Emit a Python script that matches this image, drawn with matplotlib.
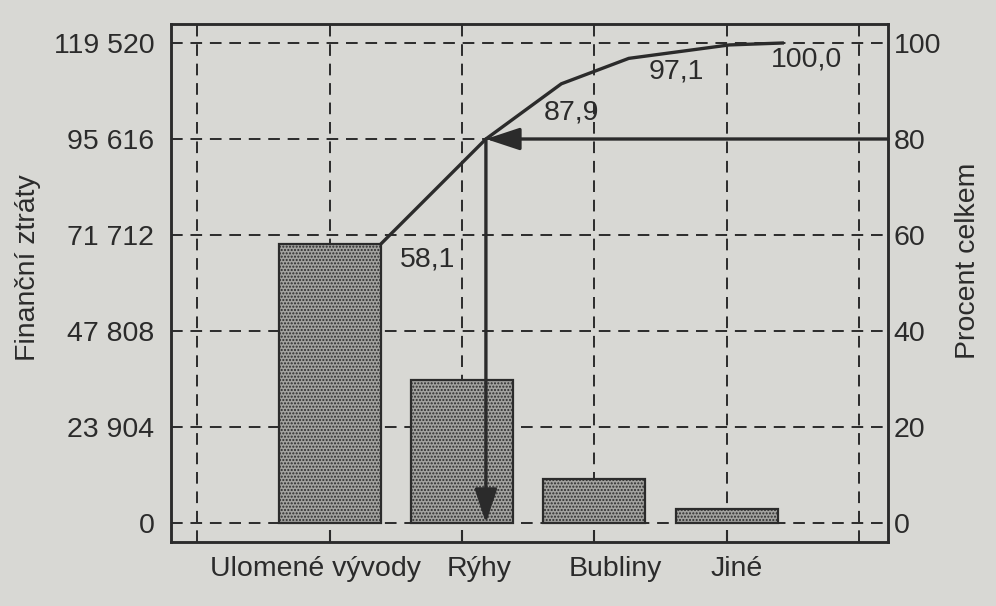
import matplotlib.pyplot as plt
import matplotlib.transforms as mtransforms
import numpy as np

plt.rcParams['font.family'] = ['Liberation Sans', 'DejaVu Sans']
plt.rcParams['hatch.color'] = '#727270'

# druhy vad a finanční ztráty
vady = ['Ulomené vývody', 'Rýhy', 'Bubliny', 'Jiné']
ztraty = [69441, 35617, 10996, 3466]
celkem = sum(ztraty)  # 119 520

# kumulativní křivka tak, jak je v grafu nakreslená
krivka_x = [1.385, 2.18, 2.75, 3.26, 4.02, 4.42]
krivka_pct = [58.1, 80.0, 91.5, 96.8, 99.6, 100.0]

# popisky kumulativních procent
popisky = ['58,1', '87,9', '97,1', '100,0']
hranice = 80  # 80 % -> Pareto

paper = '#d8d8d4'
ink = '#2b2b2b'
fs = 20.5

fig = plt.figure(figsize=(9.96, 6.06), dpi=100, facecolor=paper)
ax = fig.add_axes([0.1717, 0.1056, 0.72, 0.8548])
ax.set_facecolor(paper)
ax2 = ax.twinx()

x = np.arange(1, len(vady) + 1)
xmin, xmax = -0.2, 5.22
pad_pct = 3.96
ax.set_xlim(xmin, xmax)
ax.set_ylim(-celkem * pad_pct / 100, celkem * (1 + pad_pct / 100))
ax2.set_ylim(-pad_pct, 100 + pad_pct)

# mřížka
grid_kw = dict(color=ink, lw=1.4, ls=(0, (6, 4)), zorder=1)
for gx in range(6):
    ax.axvline(gx, **grid_kw)
for gy in np.linspace(0, celkem, 6):
    ax.axhline(gy, **grid_kw)

# sloupce
ax.bar(x, ztraty, width=0.77, color='#a2a29f', edgecolor=ink, lw=1.6,
       hatch='.....', zorder=2)

# kumulativní křivka
ax2.plot(krivka_x, krivka_pct, color=ink, lw=2.4, zorder=4,
         solid_joinstyle='miter')

# šipky od 80 %
arrow_x = krivka_x[krivka_pct.index(hranice)]
arr = dict(arrowstyle='-|>,head_length=1.15,head_width=0.38', color=ink,
           lw=2.4, mutation_scale=18, shrinkA=0, shrinkB=0)
ax2.annotate('', xy=(arrow_x, hranice), xytext=(xmax, hranice),
             arrowprops=arr, zorder=5, annotation_clip=False)
ax2.annotate('', xy=(arrow_x, 0), xytext=(arrow_x, hranice),
             arrowprops=arr, zorder=5)

# popisky
kum = np.cumsum(ztraty) / celkem * 100
popisky_x = [1.74, 2.83, 3.62, 4.6]
popisky_dy = [-3.3, -2.3, -3.0, -3.5]
for txt, px, k, dy in zip(popisky, popisky_x, kum, popisky_dy):
    ax2.text(px, k + dy, txt, fontsize=fs, color=ink, ha='center', va='center',
             zorder=6)

# osy
ax.set_xticks(x)
ax.set_xticklabels(vady)
ax.set_yticks(np.linspace(0, celkem, 6))
ax.set_yticklabels([f'{v:,.0f}'.replace(',', ' ') for v in np.linspace(0, celkem, 6)])
ax2.set_yticks(np.arange(0, 101, 20))

ax.tick_params(axis='x', direction='in', length=9, width=1.5, pad=10,
               labelsize=fs, colors=ink)
ax.tick_params(axis='y', length=0, pad=12, labelsize=fs, colors=ink)
ax2.tick_params(axis='y', length=0, pad=4, labelsize=fs, colors=ink)

# popisky kategorií jsou v originálu mírně posunuté
posun_px = [-14, 17, 21, 10]
for lab, dx in zip(ax.get_xticklabels(), posun_px):
    lab.set_transform(lab.get_transform() +
                      mtransforms.ScaledTranslation(dx / 100, 0, fig.dpi_scale_trans))

ax.set_ylabel('Finanční ztráty', fontsize=fs, color=ink)
ax2.set_ylabel('Procent celkem', fontsize=fs, color=ink)
for a in (ax, ax2):
    a.yaxis.label.set(va='center', ha='center')
ax.yaxis.set_label_coords(-0.2, 0.529)
ax2.yaxis.set_label_coords(1.112, 0.542)

for a in (ax, ax2):
    for s in a.spines.values():
        s.set_linewidth(1.8)
        s.set_color(ink)

fig.savefig('out.png', dpi=100, facecolor=paper)
